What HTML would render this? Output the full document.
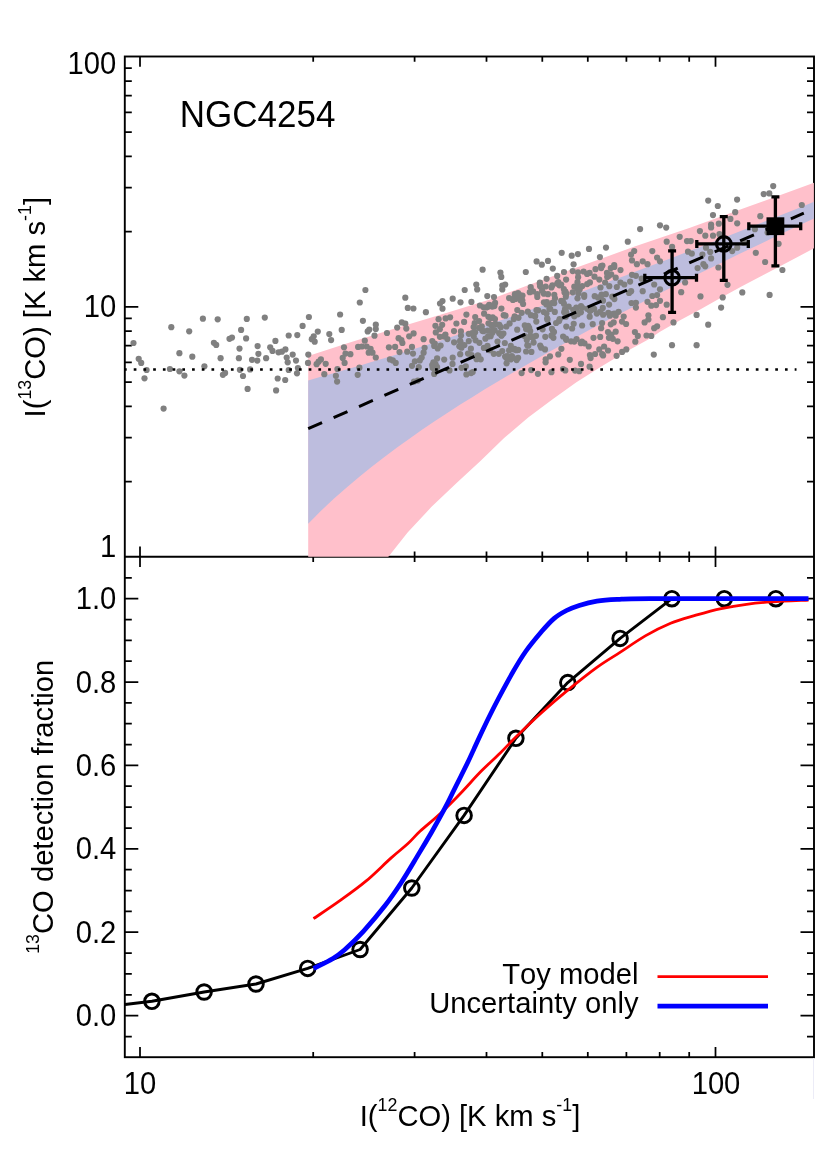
<!DOCTYPE html>
<html><head><meta charset="utf-8"><title>NGC4254</title>
<style>
html,body{margin:0;padding:0;background:#fff}
svg{display:block;will-change:transform}
text{font-family:"Liberation Sans",sans-serif;fill:#000;font-kerning:none}
</style></head>
<body>
<svg width="830" height="1175" viewBox="0 0 830 1175">
<rect width="830" height="1175" fill="#fff"/>
<g stroke="#000" fill="none">
<rect x="124.8" y="56.5" width="689.2" height="1000.7" stroke-width="1.9"/>
<line x1="124.8" y1="556.8" x2="814" y2="556.8" stroke-width="2"/>
<path stroke-width="1.75" d="M140.0 56.5v10.3M140.0 546.5v20.6M140.0 1057.2v-10.3M313.2 56.5v5.2M313.2 551.6v10.4M313.2 1057.2v-5.2M414.6 56.5v5.2M414.6 551.6v10.4M414.6 1057.2v-5.2M486.5 56.5v5.2M486.5 551.6v10.4M486.5 1057.2v-5.2M542.3 56.5v5.2M542.3 551.6v10.4M542.3 1057.2v-5.2M587.8 56.5v5.2M587.8 551.6v10.4M587.8 1057.2v-5.2M626.4 56.5v5.2M626.4 551.6v10.4M626.4 1057.2v-5.2M659.7 56.5v5.2M659.7 551.6v10.4M659.7 1057.2v-5.2M689.2 56.5v5.2M689.2 551.6v10.4M689.2 1057.2v-5.2M715.5 56.5v10.3M715.5 546.5v20.6M715.5 1057.2v-10.3M124.8 481.7h7.0M814.0 481.7h-7.0M124.8 437.7h7.0M814.0 437.7h-7.0M124.8 406.4h7.0M814.0 406.4h-7.0M124.8 382.2h7.0M814.0 382.2h-7.0M124.8 362.4h7.0M814.0 362.4h-7.0M124.8 345.6h7.0M814.0 345.6h-7.0M124.8 331.1h7.0M814.0 331.1h-7.0M124.8 318.3h7.0M814.0 318.3h-7.0M124.8 306.9h13.5M814.0 306.9h-13.5M124.8 231.6h7.0M814.0 231.6h-7.0M124.8 187.6h7.0M814.0 187.6h-7.0M124.8 156.3h7.0M814.0 156.3h-7.0M124.8 132.1h7.0M814.0 132.1h-7.0M124.8 112.3h7.0M814.0 112.3h-7.0M124.8 95.5h7.0M814.0 95.5h-7.0M124.8 81.0h7.0M814.0 81.0h-7.0M124.8 68.2h7.0M814.0 68.2h-7.0M124.8 1036.5h7.0M814.0 1036.5h-7.0M124.8 1015.6h13.5M814.0 1015.6h-13.5M124.8 994.8h7.0M814.0 994.8h-7.0M124.8 973.9h7.0M814.0 973.9h-7.0M124.8 953.0h7.0M814.0 953.0h-7.0M124.8 932.2h13.5M814.0 932.2h-13.5M124.8 911.4h7.0M814.0 911.4h-7.0M124.8 890.5h7.0M814.0 890.5h-7.0M124.8 869.6h7.0M814.0 869.6h-7.0M124.8 848.8h13.5M814.0 848.8h-13.5M124.8 828.0h7.0M814.0 828.0h-7.0M124.8 807.1h7.0M814.0 807.1h-7.0M124.8 786.2h7.0M814.0 786.2h-7.0M124.8 765.4h13.5M814.0 765.4h-13.5M124.8 744.5h7.0M814.0 744.5h-7.0M124.8 723.7h7.0M814.0 723.7h-7.0M124.8 702.9h7.0M814.0 702.9h-7.0M124.8 682.0h13.5M814.0 682.0h-13.5M124.8 661.1h7.0M814.0 661.1h-7.0M124.8 640.3h7.0M814.0 640.3h-7.0M124.8 619.5h7.0M814.0 619.5h-7.0M124.8 598.6h13.5M814.0 598.6h-13.5M124.8 577.8h7.0M814.0 577.8h-7.0"/>
</g>
<defs><clipPath id="ct"><rect x="124.8" y="56.5" width="689.1" height="500.3"/></clipPath></defs>
<g id="bands">
<polygon clip-path="url(#ct)" fill="#ffc0cb" points="308.2,356.0 348.2,342.9 396.4,328.0 444.6,313.5 490.0,299.4 538.2,281.6 586.4,264.0 634.6,246.6 690.0,227.8 750.0,206.0 814.0,182.8 814.0,248.3 782.9,264.8 762.4,275.5 741.9,286.3 721.4,297.6 701.0,308.9 680.5,320.1 660.0,331.8 648.7,339.3 624.6,352.5 600.5,367.0 576.4,382.2 552.3,399.5 528.2,417.6 504.1,438.1 480.7,460.8 456.6,483.0 431.3,507.1 407.6,532.4 389.2,555.8 308.2,654.0"/>
<polygon clip-path="url(#ct)" fill="#bdbdde" points="308.2,380.4 320.8,376.8 333.5,373.3 346.1,369.6 358.8,365.9 371.4,362.1 384.1,358.3 396.7,354.4 409.4,350.4 422.0,346.4 434.6,342.4 447.3,338.3 459.9,334.1 472.6,329.9 485.2,325.6 497.9,321.3 510.5,317.0 523.2,312.5 535.8,308.1 548.5,303.6 561.1,299.1 573.7,294.5 586.4,289.9 599.0,285.3 611.7,280.6 624.3,275.9 637.0,271.1 649.6,266.3 662.3,261.5 674.9,256.7 687.5,251.8 700.2,246.9 712.8,242.0 725.5,237.1 738.1,232.1 750.8,227.1 763.4,222.1 776.1,217.0 788.7,212.0 801.4,206.9 814.0,201.8 814.0,218.4 801.4,224.3 788.7,230.3 776.1,236.3 763.4,242.4 750.8,248.5 738.1,254.6 725.5,260.7 712.8,266.9 700.2,273.1 687.5,279.4 674.9,285.7 662.3,292.1 649.6,298.5 637.0,305.0 624.3,311.5 611.7,318.1 599.0,324.8 586.4,331.6 573.7,338.4 561.1,345.3 548.5,352.3 535.8,359.4 523.2,366.7 510.5,374.0 497.9,381.5 485.2,389.1 472.6,396.9 459.9,404.8 447.3,412.9 434.6,421.3 422.0,429.8 409.4,438.7 396.7,447.8 384.1,457.2 371.4,467.0 358.8,477.2 346.1,487.9 333.5,499.1 320.8,511.0 308.2,523.7"/>
</g>
<line x1="813.5" y1="1058" x2="813.5" y2="1099" stroke="#ececf7" stroke-width="1"/>
<g id="dots" fill="#808080">
<circle cx="133.5" cy="343.0" r="3.1"/><circle cx="138.7" cy="358.8" r="3.1"/><circle cx="141.2" cy="362.9" r="3.1"/><circle cx="146.6" cy="370.0" r="3.1"/><circle cx="144.5" cy="378.3" r="3.1"/><circle cx="163.6" cy="408.6" r="3.1"/><circle cx="171.3" cy="327.2" r="3.1"/><circle cx="169.9" cy="369.0" r="3.1"/><circle cx="179.4" cy="353.2" r="3.1"/><circle cx="179.4" cy="371.3" r="3.1"/><circle cx="184.4" cy="375.6" r="3.1"/><circle cx="189.2" cy="331.3" r="3.1"/><circle cx="192.3" cy="356.7" r="3.1"/><circle cx="202.9" cy="318.7" r="3.1"/><circle cx="204.4" cy="366.3" r="3.1"/><circle cx="213.9" cy="342.8" r="3.1"/><circle cx="216.2" cy="344.9" r="3.1"/><circle cx="217.7" cy="319.3" r="3.1"/><circle cx="220.6" cy="358.2" r="3.1"/><circle cx="222.9" cy="374.8" r="3.1"/><circle cx="225.1" cy="372.9" r="3.1"/><circle cx="229.5" cy="338.8" r="3.1"/><circle cx="232.0" cy="337.6" r="3.1"/><circle cx="238.9" cy="358.2" r="3.1"/><circle cx="239.5" cy="348.6" r="3.1"/><circle cx="239.9" cy="369.8" r="3.1"/><circle cx="241.1" cy="329.9" r="3.1"/><circle cx="243.0" cy="376.0" r="3.1"/><circle cx="246.1" cy="338.4" r="3.1"/><circle cx="246.8" cy="318.9" r="3.1"/><circle cx="247.6" cy="388.9" r="3.1"/><circle cx="250.1" cy="369.4" r="3.1"/><circle cx="252.0" cy="359.8" r="3.1"/><circle cx="257.3" cy="360.6" r="3.1"/><circle cx="257.6" cy="346.1" r="3.1"/><circle cx="258.4" cy="353.8" r="3.1"/><circle cx="264.8" cy="317.6" r="3.1"/><circle cx="266.1" cy="358.2" r="3.1"/><circle cx="270.2" cy="347.3" r="3.1"/><circle cx="272.5" cy="350.9" r="3.1"/><circle cx="275.4" cy="340.9" r="3.1"/><circle cx="276.1" cy="390.4" r="3.1"/><circle cx="277.7" cy="378.5" r="3.1"/><circle cx="278.5" cy="352.3" r="3.1"/><circle cx="285.2" cy="380.0" r="3.1"/><circle cx="288.7" cy="335.5" r="3.1"/><circle cx="297.3" cy="335.1" r="3.1"/><circle cx="302.6" cy="325.9" r="3.1"/><circle cx="308.9" cy="317.0" r="3.1"/><circle cx="285.4" cy="349.4" r="3.1"/><circle cx="281.9" cy="351.7" r="3.1"/><circle cx="286.7" cy="357.5" r="3.1"/><circle cx="287.7" cy="362.3" r="3.1"/><circle cx="292.7" cy="354.6" r="3.1"/><circle cx="296.0" cy="360.6" r="3.1"/><circle cx="297.9" cy="368.1" r="3.1"/><circle cx="297.0" cy="373.3" r="3.1"/><circle cx="288.7" cy="370.0" r="3.1"/><circle cx="308.3" cy="354.6" r="3.1"/><circle cx="308.0" cy="362.9" r="3.1"/><circle cx="311.8" cy="339.2" r="3.1"/><circle cx="313.7" cy="336.3" r="3.1"/><circle cx="314.7" cy="341.7" r="3.1"/><circle cx="317.8" cy="331.6" r="3.1"/><circle cx="329.3" cy="334.1" r="3.1"/><circle cx="331.1" cy="340.1" r="3.1"/><circle cx="340.1" cy="314.5" r="3.1"/><circle cx="341.7" cy="329.9" r="3.1"/><circle cx="316.6" cy="364.2" r="3.1"/><circle cx="318.6" cy="361.7" r="3.1"/><circle cx="320.9" cy="359.4" r="3.1"/><circle cx="325.7" cy="363.8" r="3.1"/><circle cx="324.3" cy="374.2" r="3.1"/><circle cx="335.9" cy="375.8" r="3.1"/><circle cx="337.1" cy="381.6" r="3.1"/><circle cx="337.4" cy="369.0" r="3.1"/><circle cx="344.0" cy="347.3" r="3.1"/><circle cx="345.5" cy="353.6" r="3.1"/><circle cx="342.7" cy="357.9" r="3.1"/><circle cx="344.6" cy="362.9" r="3.1"/><circle cx="350.4" cy="354.2" r="3.1"/><circle cx="357.7" cy="374.8" r="3.1"/><circle cx="359.4" cy="367.7" r="3.1"/><circle cx="359.8" cy="302.5" r="3.1"/><circle cx="365.4" cy="290.0" r="3.1"/><circle cx="362.9" cy="320.8" r="3.1"/><circle cx="358.1" cy="346.9" r="3.1"/><circle cx="361.9" cy="346.5" r="3.1"/><circle cx="364.8" cy="340.7" r="3.1"/><circle cx="367.7" cy="331.4" r="3.1"/><circle cx="369.3" cy="329.5" r="3.1"/><circle cx="375.8" cy="324.7" r="3.1"/><circle cx="375.8" cy="329.1" r="3.1"/><circle cx="374.5" cy="335.7" r="3.1"/><circle cx="366.7" cy="346.5" r="3.1"/><circle cx="370.6" cy="348.8" r="3.1"/><circle cx="368.7" cy="352.7" r="3.1"/><circle cx="372.5" cy="352.7" r="3.1"/><circle cx="375.8" cy="357.5" r="3.1"/><circle cx="387.0" cy="333.0" r="3.1"/><circle cx="388.9" cy="347.3" r="3.1"/><circle cx="389.9" cy="359.4" r="3.1"/><circle cx="392.8" cy="360.4" r="3.1"/><circle cx="395.7" cy="362.9" r="3.1"/><circle cx="395.1" cy="346.9" r="3.1"/><circle cx="397.2" cy="327.6" r="3.1"/><circle cx="398.6" cy="338.2" r="3.1"/><circle cx="401.4" cy="340.1" r="3.1"/><circle cx="402.4" cy="343.0" r="3.1"/><circle cx="399.5" cy="352.1" r="3.1"/><circle cx="401.8" cy="322.4" r="3.1"/><circle cx="405.3" cy="323.7" r="3.1"/><circle cx="406.3" cy="328.6" r="3.1"/><circle cx="405.3" cy="297.7" r="3.1"/><circle cx="407.8" cy="307.9" r="3.1"/><circle cx="413.4" cy="308.5" r="3.1"/><circle cx="409.2" cy="336.3" r="3.1"/><circle cx="413.6" cy="333.4" r="3.1"/><circle cx="407.2" cy="351.7" r="3.1"/><circle cx="412.0" cy="346.9" r="3.1"/><circle cx="413.0" cy="353.6" r="3.1"/><circle cx="412.0" cy="365.8" r="3.1"/><circle cx="414.9" cy="361.3" r="3.1"/><circle cx="423.6" cy="339.2" r="3.1"/><circle cx="425.9" cy="312.2" r="3.1"/><circle cx="424.6" cy="347.8" r="3.1"/><circle cx="423.6" cy="352.7" r="3.1"/><circle cx="421.7" cy="357.5" r="3.1"/><circle cx="419.8" cy="360.4" r="3.1"/><circle cx="418.8" cy="367.1" r="3.1"/><circle cx="414.0" cy="381.6" r="3.1"/><circle cx="417.8" cy="380.6" r="3.1"/><circle cx="432.3" cy="341.1" r="3.1"/><circle cx="434.2" cy="345.9" r="3.1"/><circle cx="435.8" cy="332.4" r="3.1"/><circle cx="437.1" cy="358.4" r="3.1"/><circle cx="434.2" cy="373.9" r="3.1"/><circle cx="437.1" cy="367.1" r="3.1"/><circle cx="440.0" cy="303.5" r="3.1"/><circle cx="442.5" cy="301.0" r="3.1"/><circle cx="442.5" cy="308.7" r="3.1"/><circle cx="452.7" cy="298.7" r="3.1"/><circle cx="460.5" cy="302.3" r="3.1"/><circle cx="464.7" cy="290.0" r="3.1"/><circle cx="476.3" cy="284.6" r="3.1"/><circle cx="477.2" cy="289.4" r="3.1"/><circle cx="482.6" cy="269.7" r="3.1"/><circle cx="471.4" cy="301.9" r="3.1"/><circle cx="487.3" cy="296.1" r="3.1"/><circle cx="494.0" cy="297.1" r="3.1"/><circle cx="489.2" cy="304.8" r="3.1"/><circle cx="500.4" cy="272.6" r="3.1"/><circle cx="501.3" cy="276.9" r="3.1"/><circle cx="502.3" cy="285.5" r="3.1"/><circle cx="505.2" cy="284.6" r="3.1"/><circle cx="502.3" cy="289.4" r="3.1"/><circle cx="525.8" cy="272.0" r="3.1"/><circle cx="522.5" cy="295.6" r="3.1"/><circle cx="516.7" cy="296.1" r="3.1"/><circle cx="512.9" cy="300.0" r="3.1"/><circle cx="533.1" cy="291.3" r="3.1"/><circle cx="536.6" cy="261.4" r="3.1"/><circle cx="541.8" cy="264.7" r="3.1"/><circle cx="548.0" cy="260.9" r="3.1"/><circle cx="552.8" cy="268.6" r="3.1"/><circle cx="546.6" cy="278.8" r="3.1"/><circle cx="539.9" cy="282.7" r="3.1"/><circle cx="561.7" cy="252.8" r="3.1"/><circle cx="571.7" cy="255.7" r="3.1"/><circle cx="577.9" cy="254.1" r="3.1"/><circle cx="573.6" cy="264.3" r="3.1"/><circle cx="589.0" cy="248.9" r="3.1"/><circle cx="557.2" cy="275.9" r="3.1"/><circle cx="564.0" cy="272.0" r="3.1"/><circle cx="572.7" cy="271.1" r="3.1"/><circle cx="578.0" cy="272.4" r="3.1"/><circle cx="583.6" cy="271.5" r="3.1"/><circle cx="545.7" cy="286.5" r="3.1"/><circle cx="551.4" cy="287.5" r="3.1"/><circle cx="557.2" cy="283.6" r="3.1"/><circle cx="548.0" cy="294.2" r="3.1"/><circle cx="554.3" cy="294.8" r="3.1"/><circle cx="566.5" cy="293.8" r="3.1"/><circle cx="572.7" cy="292.3" r="3.1"/><circle cx="578.4" cy="286.5" r="3.1"/><circle cx="606.0" cy="247.6" r="3.1"/><circle cx="599.9" cy="257.1" r="3.1"/><circle cx="627.8" cy="241.7" r="3.1"/><circle cx="640.1" cy="229.1" r="3.1"/><circle cx="660.0" cy="225.3" r="3.1"/><circle cx="666.2" cy="227.6" r="3.1"/><circle cx="708.2" cy="200.6" r="3.1"/><circle cx="717.8" cy="206.0" r="3.1"/><circle cx="713.0" cy="215.1" r="3.1"/><circle cx="737.1" cy="199.6" r="3.1"/><circle cx="735.2" cy="212.2" r="3.1"/><circle cx="679.7" cy="236.8" r="3.1"/><circle cx="666.7" cy="241.7" r="3.1"/><circle cx="687.0" cy="241.1" r="3.1"/><circle cx="690.8" cy="241.1" r="3.1"/><circle cx="652.3" cy="251.1" r="3.1"/><circle cx="631.1" cy="254.6" r="3.1"/><circle cx="632.0" cy="260.4" r="3.1"/><circle cx="636.9" cy="264.2" r="3.1"/><circle cx="642.7" cy="261.3" r="3.1"/><circle cx="647.5" cy="264.2" r="3.1"/><circle cx="657.1" cy="257.5" r="3.1"/><circle cx="660.0" cy="261.3" r="3.1"/><circle cx="699.9" cy="231.1" r="3.1"/><circle cx="705.3" cy="235.7" r="3.1"/><circle cx="713.0" cy="235.7" r="3.1"/><circle cx="711.1" cy="224.7" r="3.1"/><circle cx="718.8" cy="223.7" r="3.1"/><circle cx="730.4" cy="218.9" r="3.1"/><circle cx="672.1" cy="246.9" r="3.1"/><circle cx="688.0" cy="251.7" r="3.1"/><circle cx="691.8" cy="253.6" r="3.1"/><circle cx="702.4" cy="254.6" r="3.1"/><circle cx="711.1" cy="258.4" r="3.1"/><circle cx="703.4" cy="264.2" r="3.1"/><circle cx="697.6" cy="268.1" r="3.1"/><circle cx="718.4" cy="267.5" r="3.1"/><circle cx="727.5" cy="284.8" r="3.1"/><circle cx="722.7" cy="297.4" r="3.1"/><circle cx="721.1" cy="307.6" r="3.1"/><circle cx="700.5" cy="296.4" r="3.1"/><circle cx="696.6" cy="314.9" r="3.1"/><circle cx="681.2" cy="292.2" r="3.1"/><circle cx="685.1" cy="282.5" r="3.1"/><circle cx="660.0" cy="289.3" r="3.1"/><circle cx="654.2" cy="284.5" r="3.1"/><circle cx="657.1" cy="295.1" r="3.1"/><circle cx="660.0" cy="300.8" r="3.1"/><circle cx="666.7" cy="304.7" r="3.1"/><circle cx="652.3" cy="296.0" r="3.1"/><circle cx="647.5" cy="301.8" r="3.1"/><circle cx="651.3" cy="305.7" r="3.1"/><circle cx="635.9" cy="302.8" r="3.1"/><circle cx="635.9" cy="307.6" r="3.1"/><circle cx="648.4" cy="315.3" r="3.1"/><circle cx="662.9" cy="317.2" r="3.1"/><circle cx="631.1" cy="291.2" r="3.1"/><circle cx="642.7" cy="291.2" r="3.1"/><circle cx="601.2" cy="268.1" r="3.1"/><circle cx="610.8" cy="268.1" r="3.1"/><circle cx="607.0" cy="272.9" r="3.1"/><circle cx="608.9" cy="275.8" r="3.1"/><circle cx="589.6" cy="272.9" r="3.1"/><circle cx="594.5" cy="276.7" r="3.1"/><circle cx="599.3" cy="279.6" r="3.1"/><circle cx="605.1" cy="282.5" r="3.1"/><circle cx="615.7" cy="277.7" r="3.1"/><circle cx="620.5" cy="282.5" r="3.1"/><circle cx="624.3" cy="284.5" r="3.1"/><circle cx="630.1" cy="281.6" r="3.1"/><circle cx="632.0" cy="274.8" r="3.1"/><circle cx="635.9" cy="275.8" r="3.1"/><circle cx="641.7" cy="278.7" r="3.1"/><circle cx="653.8" cy="354.6" r="3.1"/><circle cx="672.0" cy="345.2" r="3.1"/><circle cx="696.6" cy="345.2" r="3.1"/><circle cx="708.2" cy="324.7" r="3.1"/><circle cx="673.5" cy="322.4" r="3.1"/><circle cx="657.1" cy="326.3" r="3.1"/><circle cx="654.2" cy="328.2" r="3.1"/><circle cx="651.3" cy="335.9" r="3.1"/><circle cx="646.5" cy="335.5" r="3.1"/><circle cx="634.9" cy="332.0" r="3.1"/><circle cx="637.8" cy="335.9" r="3.1"/><circle cx="635.3" cy="341.7" r="3.1"/><circle cx="626.3" cy="349.4" r="3.1"/><circle cx="616.6" cy="355.8" r="3.1"/><circle cx="590.6" cy="358.1" r="3.1"/><circle cx="589.6" cy="366.7" r="3.1"/><circle cx="581.0" cy="363.9" r="3.1"/><circle cx="602.2" cy="354.2" r="3.1"/><circle cx="599.3" cy="349.4" r="3.1"/><circle cx="604.1" cy="346.5" r="3.1"/><circle cx="588.7" cy="346.5" r="3.1"/><circle cx="593.5" cy="337.8" r="3.1"/><circle cx="600.2" cy="336.9" r="3.1"/><circle cx="581.9" cy="341.7" r="3.1"/><circle cx="608.0" cy="332.0" r="3.1"/><circle cx="615.7" cy="331.7" r="3.1"/><circle cx="608.9" cy="337.8" r="3.1"/><circle cx="612.8" cy="338.8" r="3.1"/><circle cx="617.6" cy="341.3" r="3.1"/><circle cx="610.8" cy="324.3" r="3.1"/><circle cx="613.7" cy="322.4" r="3.1"/><circle cx="644.6" cy="322.4" r="3.1"/><circle cx="648.4" cy="319.5" r="3.1"/><circle cx="656.1" cy="305.1" r="3.1"/><circle cx="618.6" cy="311.8" r="3.1"/><circle cx="615.7" cy="315.7" r="3.1"/><circle cx="609.9" cy="315.7" r="3.1"/><circle cx="603.1" cy="314.7" r="3.1"/><circle cx="600.2" cy="311.8" r="3.1"/><circle cx="737.2" cy="223.3" r="3.1"/><circle cx="711.1" cy="227.5" r="3.1"/><circle cx="719.5" cy="234.2" r="3.1"/><circle cx="710.2" cy="251.9" r="3.1"/><circle cx="706.0" cy="247.7" r="3.1"/><circle cx="705.2" cy="266.3" r="3.1"/><circle cx="742.3" cy="292.4" r="3.1"/><circle cx="769.6" cy="294.9" r="3.1"/><circle cx="782.4" cy="270.0" r="3.1"/><circle cx="765.1" cy="262.0" r="3.1"/><circle cx="755.8" cy="252.8" r="3.1"/><circle cx="778.6" cy="243.8" r="3.1"/><circle cx="754.9" cy="229.2" r="3.1"/><circle cx="760.3" cy="216.2" r="3.1"/><circle cx="763.7" cy="194.1" r="3.1"/><circle cx="769.3" cy="193.4" r="3.1"/><circle cx="773.2" cy="186.1" r="3.1"/><circle cx="801.8" cy="205.0" r="3.1"/><circle cx="767.6" cy="232.5" r="3.1"/><circle cx="732.2" cy="251.1" r="3.1"/><circle cx="737.2" cy="247.7" r="3.1"/><circle cx="744.0" cy="242.7" r="3.1"/><circle cx="466.4" cy="374.4" r="3.1"/><circle cx="515.4" cy="299.0" r="3.1"/><circle cx="530.9" cy="315.2" r="3.1"/><circle cx="620.5" cy="270.1" r="3.1"/><circle cx="461.5" cy="347.7" r="3.1"/><circle cx="488.5" cy="323.3" r="3.1"/><circle cx="502.3" cy="351.0" r="3.1"/><circle cx="577.7" cy="311.9" r="3.1"/><circle cx="445.6" cy="318.4" r="3.1"/><circle cx="613.1" cy="313.8" r="3.1"/><circle cx="631.5" cy="303.0" r="3.1"/><circle cx="527.3" cy="345.3" r="3.1"/><circle cx="536.0" cy="335.8" r="3.1"/><circle cx="614.4" cy="299.1" r="3.1"/><circle cx="537.3" cy="296.9" r="3.1"/><circle cx="607.2" cy="277.0" r="3.1"/><circle cx="513.8" cy="319.1" r="3.1"/><circle cx="472.2" cy="333.1" r="3.1"/><circle cx="566.3" cy="312.4" r="3.1"/><circle cx="510.8" cy="345.8" r="3.1"/><circle cx="529.8" cy="292.2" r="3.1"/><circle cx="447.4" cy="339.1" r="3.1"/><circle cx="444.0" cy="336.4" r="3.1"/><circle cx="514.9" cy="294.2" r="3.1"/><circle cx="565.4" cy="291.6" r="3.1"/><circle cx="454.0" cy="331.1" r="3.1"/><circle cx="492.4" cy="332.7" r="3.1"/><circle cx="552.4" cy="285.3" r="3.1"/><circle cx="546.4" cy="304.5" r="3.1"/><circle cx="608.0" cy="350.5" r="3.1"/><circle cx="511.9" cy="356.2" r="3.1"/><circle cx="438.6" cy="319.2" r="3.1"/><circle cx="589.9" cy="282.4" r="3.1"/><circle cx="482.3" cy="330.8" r="3.1"/><circle cx="574.3" cy="286.7" r="3.1"/><circle cx="580.9" cy="312.3" r="3.1"/><circle cx="602.1" cy="323.1" r="3.1"/><circle cx="518.5" cy="317.8" r="3.1"/><circle cx="461.0" cy="335.6" r="3.1"/><circle cx="461.9" cy="345.4" r="3.1"/><circle cx="565.0" cy="309.1" r="3.1"/><circle cx="471.1" cy="373.1" r="3.1"/><circle cx="614.2" cy="265.1" r="3.1"/><circle cx="587.2" cy="284.1" r="3.1"/><circle cx="580.8" cy="343.2" r="3.1"/><circle cx="584.5" cy="343.3" r="3.1"/><circle cx="589.9" cy="355.1" r="3.1"/><circle cx="559.6" cy="319.2" r="3.1"/><circle cx="485.4" cy="338.7" r="3.1"/><circle cx="476.6" cy="359.2" r="3.1"/><circle cx="558.3" cy="282.1" r="3.1"/><circle cx="574.3" cy="316.3" r="3.1"/><circle cx="461.5" cy="367.8" r="3.1"/><circle cx="534.8" cy="316.2" r="3.1"/><circle cx="543.9" cy="293.7" r="3.1"/><circle cx="488.1" cy="336.4" r="3.1"/><circle cx="468.8" cy="341.1" r="3.1"/><circle cx="501.5" cy="335.5" r="3.1"/><circle cx="435.5" cy="371.5" r="3.1"/><circle cx="540.2" cy="345.6" r="3.1"/><circle cx="483.9" cy="347.9" r="3.1"/><circle cx="460.2" cy="354.2" r="3.1"/><circle cx="563.9" cy="303.7" r="3.1"/><circle cx="498.8" cy="353.8" r="3.1"/><circle cx="487.7" cy="330.6" r="3.1"/><circle cx="432.2" cy="365.0" r="3.1"/><circle cx="477.8" cy="355.3" r="3.1"/><circle cx="452.5" cy="363.9" r="3.1"/><circle cx="501.4" cy="308.6" r="3.1"/><circle cx="603.1" cy="355.4" r="3.1"/><circle cx="506.4" cy="326.5" r="3.1"/><circle cx="549.0" cy="304.8" r="3.1"/><circle cx="551.4" cy="372.2" r="3.1"/><circle cx="509.6" cy="323.4" r="3.1"/><circle cx="524.8" cy="325.4" r="3.1"/><circle cx="575.1" cy="370.6" r="3.1"/><circle cx="554.0" cy="332.1" r="3.1"/><circle cx="554.8" cy="311.9" r="3.1"/><circle cx="541.2" cy="347.7" r="3.1"/><circle cx="505.1" cy="356.6" r="3.1"/><circle cx="434.8" cy="343.6" r="3.1"/><circle cx="537.9" cy="373.8" r="3.1"/><circle cx="634.2" cy="251.0" r="3.1"/><circle cx="437.7" cy="348.4" r="3.1"/><circle cx="500.8" cy="327.2" r="3.1"/><circle cx="576.6" cy="339.1" r="3.1"/><circle cx="513.0" cy="357.8" r="3.1"/><circle cx="494.7" cy="330.2" r="3.1"/><circle cx="547.2" cy="318.4" r="3.1"/><circle cx="527.6" cy="329.2" r="3.1"/><circle cx="545.0" cy="349.4" r="3.1"/><circle cx="552.7" cy="302.7" r="3.1"/><circle cx="510.4" cy="358.8" r="3.1"/><circle cx="540.1" cy="286.2" r="3.1"/><circle cx="559.1" cy="321.1" r="3.1"/><circle cx="479.4" cy="342.8" r="3.1"/><circle cx="452.7" cy="357.7" r="3.1"/><circle cx="526.8" cy="340.1" r="3.1"/><circle cx="565.9" cy="338.5" r="3.1"/><circle cx="490.0" cy="350.2" r="3.1"/><circle cx="490.1" cy="305.3" r="3.1"/><circle cx="587.1" cy="273.9" r="3.1"/><circle cx="558.3" cy="354.4" r="3.1"/><circle cx="549.4" cy="308.8" r="3.1"/><circle cx="600.5" cy="287.5" r="3.1"/><circle cx="520.5" cy="300.3" r="3.1"/><circle cx="582.1" cy="325.5" r="3.1"/><circle cx="514.0" cy="349.5" r="3.1"/><circle cx="545.6" cy="362.3" r="3.1"/><circle cx="584.2" cy="295.1" r="3.1"/><circle cx="509.1" cy="350.4" r="3.1"/><circle cx="577.5" cy="282.2" r="3.1"/><circle cx="474.7" cy="323.2" r="3.1"/><circle cx="572.1" cy="328.5" r="3.1"/><circle cx="503.7" cy="315.2" r="3.1"/><circle cx="521.7" cy="312.8" r="3.1"/><circle cx="629.1" cy="292.9" r="3.1"/><circle cx="517.2" cy="329.7" r="3.1"/><circle cx="495.8" cy="324.1" r="3.1"/><circle cx="480.7" cy="359.3" r="3.1"/><circle cx="495.1" cy="302.9" r="3.1"/><circle cx="522.3" cy="300.3" r="3.1"/><circle cx="439.9" cy="336.8" r="3.1"/><circle cx="602.4" cy="265.6" r="3.1"/><circle cx="472.7" cy="372.0" r="3.1"/><circle cx="471.6" cy="355.2" r="3.1"/><circle cx="579.3" cy="371.2" r="3.1"/><circle cx="514.5" cy="348.8" r="3.1"/><circle cx="481.8" cy="326.4" r="3.1"/><circle cx="545.7" cy="359.3" r="3.1"/><circle cx="582.1" cy="307.6" r="3.1"/><circle cx="561.2" cy="300.9" r="3.1"/><circle cx="488.4" cy="316.8" r="3.1"/><circle cx="508.5" cy="356.9" r="3.1"/><circle cx="569.8" cy="359.8" r="3.1"/><circle cx="499.3" cy="324.9" r="3.1"/><circle cx="609.3" cy="286.2" r="3.1"/><circle cx="561.2" cy="284.6" r="3.1"/><circle cx="568.7" cy="306.7" r="3.1"/><circle cx="506.6" cy="363.3" r="3.1"/><circle cx="478.4" cy="356.0" r="3.1"/><circle cx="579.7" cy="289.5" r="3.1"/><circle cx="533.0" cy="337.7" r="3.1"/><circle cx="516.0" cy="296.2" r="3.1"/><circle cx="598.0" cy="297.6" r="3.1"/><circle cx="527.8" cy="311.7" r="3.1"/><circle cx="543.8" cy="312.0" r="3.1"/><circle cx="460.9" cy="331.4" r="3.1"/><circle cx="444.2" cy="359.6" r="3.1"/><circle cx="611.2" cy="274.3" r="3.1"/><circle cx="499.2" cy="333.2" r="3.1"/><circle cx="460.1" cy="340.8" r="3.1"/><circle cx="614.3" cy="266.9" r="3.1"/><circle cx="584.2" cy="296.8" r="3.1"/><circle cx="456.4" cy="323.5" r="3.1"/><circle cx="532.8" cy="336.7" r="3.1"/><circle cx="518.2" cy="349.9" r="3.1"/><circle cx="517.3" cy="310.0" r="3.1"/><circle cx="546.5" cy="313.6" r="3.1"/><circle cx="547.4" cy="319.7" r="3.1"/><circle cx="468.8" cy="333.8" r="3.1"/><circle cx="581.0" cy="306.0" r="3.1"/><circle cx="564.2" cy="312.2" r="3.1"/><circle cx="468.0" cy="353.6" r="3.1"/><circle cx="536.3" cy="321.6" r="3.1"/><circle cx="479.9" cy="305.5" r="3.1"/><circle cx="449.5" cy="370.4" r="3.1"/><circle cx="432.6" cy="367.8" r="3.1"/><circle cx="574.3" cy="341.6" r="3.1"/><circle cx="492.7" cy="317.3" r="3.1"/><circle cx="577.5" cy="298.3" r="3.1"/><circle cx="492.2" cy="306.6" r="3.1"/><circle cx="487.5" cy="345.8" r="3.1"/><circle cx="524.6" cy="336.0" r="3.1"/><circle cx="566.1" cy="279.6" r="3.1"/><circle cx="503.4" cy="333.6" r="3.1"/><circle cx="531.1" cy="336.9" r="3.1"/><circle cx="554.2" cy="303.2" r="3.1"/><circle cx="600.8" cy="296.8" r="3.1"/><circle cx="531.4" cy="351.9" r="3.1"/><circle cx="578.4" cy="293.5" r="3.1"/><circle cx="514.7" cy="316.3" r="3.1"/><circle cx="542.6" cy="329.3" r="3.1"/><circle cx="530.2" cy="331.0" r="3.1"/><circle cx="589.9" cy="310.9" r="3.1"/><circle cx="518.1" cy="293.2" r="3.1"/><circle cx="556.1" cy="323.0" r="3.1"/><circle cx="439.8" cy="329.2" r="3.1"/><circle cx="507.2" cy="356.0" r="3.1"/><circle cx="504.8" cy="343.0" r="3.1"/><circle cx="526.1" cy="351.5" r="3.1"/><circle cx="592.7" cy="324.2" r="3.1"/><circle cx="539.8" cy="283.8" r="3.1"/><circle cx="605.8" cy="294.2" r="3.1"/><circle cx="565.3" cy="370.4" r="3.1"/><circle cx="479.0" cy="327.8" r="3.1"/><circle cx="553.2" cy="331.4" r="3.1"/><circle cx="501.5" cy="335.6" r="3.1"/><circle cx="608.3" cy="312.8" r="3.1"/><circle cx="491.6" cy="325.2" r="3.1"/><circle cx="537.3" cy="294.2" r="3.1"/><circle cx="506.5" cy="358.1" r="3.1"/><circle cx="475.2" cy="317.1" r="3.1"/><circle cx="551.4" cy="335.7" r="3.1"/><circle cx="479.1" cy="321.1" r="3.1"/><circle cx="612.3" cy="296.7" r="3.1"/><circle cx="535.2" cy="315.9" r="3.1"/><circle cx="602.8" cy="307.9" r="3.1"/><circle cx="497.5" cy="341.5" r="3.1"/><circle cx="516.4" cy="350.2" r="3.1"/><circle cx="582.3" cy="286.1" r="3.1"/><circle cx="505.5" cy="315.7" r="3.1"/><circle cx="573.7" cy="323.8" r="3.1"/><circle cx="564.5" cy="292.6" r="3.1"/><circle cx="563.0" cy="369.1" r="3.1"/><circle cx="577.8" cy="314.3" r="3.1"/><circle cx="523.1" cy="304.0" r="3.1"/><circle cx="591.2" cy="310.1" r="3.1"/><circle cx="601.1" cy="266.0" r="3.1"/><circle cx="475.6" cy="340.3" r="3.1"/><circle cx="609.1" cy="304.6" r="3.1"/><circle cx="483.5" cy="331.2" r="3.1"/><circle cx="460.5" cy="342.2" r="3.1"/><circle cx="464.1" cy="321.9" r="3.1"/><circle cx="529.2" cy="327.9" r="3.1"/><circle cx="550.3" cy="308.8" r="3.1"/><circle cx="577.3" cy="289.1" r="3.1"/><circle cx="464.4" cy="345.0" r="3.1"/><circle cx="536.5" cy="310.2" r="3.1"/><circle cx="601.6" cy="294.5" r="3.1"/><circle cx="555.0" cy="298.3" r="3.1"/><circle cx="573.2" cy="309.8" r="3.1"/><circle cx="495.0" cy="319.1" r="3.1"/><circle cx="566.2" cy="339.8" r="3.1"/><circle cx="518.1" cy="357.8" r="3.1"/><circle cx="492.3" cy="330.7" r="3.1"/><circle cx="623.7" cy="316.6" r="3.1"/><circle cx="466.4" cy="314.6" r="3.1"/><circle cx="551.9" cy="328.8" r="3.1"/><circle cx="550.0" cy="356.3" r="3.1"/><circle cx="465.8" cy="366.4" r="3.1"/><circle cx="531.2" cy="370.1" r="3.1"/><circle cx="509.1" cy="298.1" r="3.1"/><circle cx="546.9" cy="302.2" r="3.1"/><circle cx="565.7" cy="316.7" r="3.1"/><circle cx="596.8" cy="313.6" r="3.1"/><circle cx="433.4" cy="362.4" r="3.1"/><circle cx="622.1" cy="351.9" r="3.1"/><circle cx="521.6" cy="373.1" r="3.1"/><circle cx="514.3" cy="297.9" r="3.1"/><circle cx="595.1" cy="354.0" r="3.1"/><circle cx="490.8" cy="318.1" r="3.1"/><circle cx="530.2" cy="335.9" r="3.1"/><circle cx="561.4" cy="348.8" r="3.1"/><circle cx="435.2" cy="364.2" r="3.1"/><circle cx="526.1" cy="329.1" r="3.1"/><circle cx="562.8" cy="301.2" r="3.1"/><circle cx="559.4" cy="285.3" r="3.1"/><circle cx="435.4" cy="325.8" r="3.1"/><circle cx="470.9" cy="348.7" r="3.1"/><circle cx="563.1" cy="336.5" r="3.1"/><circle cx="613.8" cy="296.8" r="3.1"/><circle cx="530.7" cy="287.2" r="3.1"/><circle cx="587.1" cy="308.8" r="3.1"/><circle cx="614.8" cy="313.5" r="3.1"/><circle cx="473.7" cy="336.3" r="3.1"/><circle cx="601.1" cy="328.2" r="3.1"/><circle cx="565.8" cy="296.7" r="3.1"/><circle cx="622.0" cy="321.6" r="3.1"/><circle cx="626.1" cy="324.0" r="3.1"/><circle cx="603.0" cy="300.7" r="3.1"/><circle cx="545.3" cy="336.8" r="3.1"/><circle cx="475.1" cy="332.2" r="3.1"/><circle cx="528.1" cy="325.8" r="3.1"/><circle cx="442.2" cy="324.8" r="3.1"/><circle cx="576.3" cy="307.5" r="3.1"/><circle cx="510.6" cy="359.4" r="3.1"/><circle cx="589.7" cy="316.7" r="3.1"/><circle cx="440.6" cy="345.5" r="3.1"/><circle cx="459.3" cy="346.3" r="3.1"/><circle cx="578.1" cy="277.2" r="3.1"/><circle cx="491.6" cy="324.9" r="3.1"/><circle cx="519.8" cy="295.2" r="3.1"/><circle cx="611.3" cy="334.6" r="3.1"/><circle cx="542.1" cy="290.7" r="3.1"/><circle cx="490.6" cy="336.2" r="3.1"/><circle cx="486.4" cy="307.5" r="3.1"/><circle cx="595.5" cy="269.2" r="3.1"/><circle cx="454.1" cy="342.3" r="3.1"/><circle cx="528.4" cy="345.7" r="3.1"/><circle cx="445.4" cy="334.5" r="3.1"/><circle cx="594.7" cy="296.2" r="3.1"/><circle cx="484.1" cy="313.7" r="3.1"/><circle cx="493.8" cy="353.8" r="3.1"/><circle cx="543.9" cy="302.3" r="3.1"/><circle cx="563.8" cy="289.0" r="3.1"/><circle cx="483.6" cy="307.3" r="3.1"/><circle cx="538.2" cy="310.3" r="3.1"/><circle cx="450.1" cy="317.3" r="3.1"/><circle cx="494.4" cy="306.1" r="3.1"/><circle cx="571.0" cy="341.3" r="3.1"/><circle cx="566.3" cy="326.6" r="3.1"/><circle cx="616.8" cy="287.0" r="3.1"/><circle cx="435.5" cy="364.2" r="3.1"/><circle cx="487.9" cy="306.7" r="3.1"/><circle cx="516.6" cy="360.1" r="3.1"/><circle cx="533.6" cy="342.6" r="3.1"/><circle cx="553.4" cy="337.8" r="3.1"/><circle cx="594.2" cy="308.9" r="3.1"/><circle cx="473.6" cy="327.1" r="3.1"/>
</g>
<line x1="124" y1="369.5" x2="796.5" y2="369.5" stroke="#000" stroke-width="2.7" stroke-dasharray="2.7 7.02"/>
<line x1="308.2" y1="428.6" x2="803.8" y2="213.2" stroke="#000" stroke-width="3.0" stroke-dasharray="15.1 12.6"/>
<g stroke="#000" stroke-width="3.3" fill="none"><path d="M644.8 277.7H696.5M672.1 250.9V312.4M644.8 273.7v8M696.5 273.7v8M668.1 250.9h8M668.1 312.4h8"/><circle cx="672.1" cy="277.7" r="7.3" stroke-width="3.1"/></g>
<g stroke="#000" stroke-width="3.3" fill="none"><path d="M696.8 243.9H748.3M723.8 216.7V280.4M696.8 239.9v8M748.3 239.9v8M719.8 216.7h8M719.8 280.4h8"/><circle cx="723.8" cy="243.9" r="7.3" stroke-width="3.1"/></g>
<g stroke="#000" stroke-width="3.3" fill="none"><path d="M748.8 226.2H800.7M775.4 196.8V265.8M748.8 222.2v8M800.7 222.2v8M771.4 196.8h8M771.4 265.8h8"/><rect x="766.5" y="217.3" width="17.8" height="17.8" fill="#000" stroke="none"/></g>
<polyline fill="none" stroke="#000" stroke-width="2.9" stroke-linejoin="round" points="125.0,1004.5 151.9,1001.3 204.1,992.0 256.0,984.0 307.7,968.4 360.1,949.5 411.8,888.0 464.1,815.4 515.9,738.3 567.8,682.6 620.1,638.4 671.9,598.7 724.3,598.7 775.9,598.7"/>
<g fill="none" stroke="#000" stroke-width="2.9"><circle cx="151.9" cy="1001.3" r="7.3"/><circle cx="204.1" cy="992.0" r="7.3"/><circle cx="256.0" cy="984.0" r="7.3"/><circle cx="307.7" cy="968.4" r="7.3"/><circle cx="360.1" cy="949.5" r="7.3"/><circle cx="411.8" cy="888.0" r="7.3"/><circle cx="464.1" cy="815.4" r="7.3"/><circle cx="515.9" cy="738.3" r="7.3"/><circle cx="567.8" cy="682.6" r="7.3"/><circle cx="620.1" cy="638.4" r="7.3"/><circle cx="671.9" cy="598.7" r="7.3"/><circle cx="724.3" cy="598.7" r="7.3"/><circle cx="775.9" cy="598.7" r="7.3"/></g>
<path fill="none" stroke="#ff0000" stroke-width="2.8" d="M313.5 918.7C318.0 915.6 331.9 906.5 340.6 900.2C349.3 894.0 357.5 888.2 365.9 881.2C374.3 874.2 384.2 864.1 391.2 857.9C398.2 851.7 402.9 848.2 407.7 843.8C412.5 839.4 414.6 836.3 420.0 831.3C425.4 826.2 433.6 819.9 440.4 813.5C447.2 807.1 454.1 800.1 460.9 793.0C467.7 785.9 474.8 777.7 481.3 771.1C487.8 764.5 494.2 758.9 500.0 753.2C505.8 747.5 509.0 743.7 515.9 737.0C522.8 730.3 532.6 720.8 541.2 713.0C549.9 705.2 558.5 697.8 567.8 690.2C577.1 682.6 588.2 673.7 596.9 667.4C605.6 661.1 611.9 657.6 620.0 652.4C628.1 647.1 636.9 640.8 645.3 635.9C653.7 631.0 662.2 626.8 670.6 623.3C679.0 619.8 687.5 617.7 695.9 615.2C704.3 612.8 712.8 610.4 721.2 608.6C729.6 606.8 738.1 605.4 746.5 604.3C754.9 603.2 761.5 602.5 771.8 601.8C782.1 601.1 802.4 600.3 808.5 600.0"/>
<path fill="none" stroke="#0000ff" stroke-width="4.7" d="M313.5 968.5C316.8 966.8 327.9 961.5 333.0 958.4C338.1 955.3 339.3 954.5 344.4 950.0C349.5 945.5 356.6 938.7 363.4 931.3C370.1 923.9 378.6 913.9 384.9 905.8C391.2 897.7 395.6 891.2 401.3 882.5C407.0 873.8 413.9 861.8 419.0 853.4C424.1 845.0 427.4 839.4 431.7 832.0C435.9 824.6 441.0 815.4 444.5 808.9C448.0 802.4 449.8 798.5 452.5 793.0C455.2 787.5 458.3 781.3 460.9 776.2C463.4 771.1 465.6 766.9 467.8 762.3C470.0 757.7 471.6 754.1 474.1 748.6C476.6 743.1 479.0 737.7 483.0 729.4C487.0 721.1 493.1 708.7 498.2 699.0C503.3 689.3 508.8 679.2 513.4 671.2C518.0 663.2 521.4 657.5 526.0 651.0C530.6 644.5 536.6 637.4 541.2 632.0C545.9 626.6 549.7 622.2 553.9 618.6C558.1 615.0 562.3 612.7 566.5 610.5C570.7 608.3 574.1 607.0 579.2 605.4C584.3 603.8 590.6 602.1 596.9 601.1C603.2 600.1 608.2 599.8 617.1 599.4C626.0 599.0 618.1 598.7 650.0 598.6C681.9 598.5 782.1 598.6 808.5 598.6"/>
<line x1="657.5" y1="976.6" x2="768" y2="976.6" stroke="#ff0000" stroke-width="2.8"/>
<line x1="657.5" y1="1006.2" x2="768" y2="1006.2" stroke="#0000ff" stroke-width="4.7"/>
<text x="638.5" y="983.8" font-size="29.2" text-anchor="end">Toy model</text>
<text x="638.5" y="1012.6" font-size="29.2" text-anchor="end">Uncertainty only</text>
<g font-size="29.2">
<text transform="translate(116.3 73.7) scale(1 1.08)" text-anchor="end">100</text>
<text transform="translate(116.3 317.0) scale(1 1.08)" text-anchor="end">10</text>
<text transform="translate(116.3 556.7) scale(1 1.08)" text-anchor="end">1</text>
<text transform="translate(116.3 1026.2) scale(1 1.08)" text-anchor="end">0.0</text>
<text transform="translate(116.3 942.8) scale(1 1.08)" text-anchor="end">0.2</text>
<text transform="translate(116.3 859.4) scale(1 1.08)" text-anchor="end">0.4</text>
<text transform="translate(116.3 776.0) scale(1 1.08)" text-anchor="end">0.6</text>
<text transform="translate(116.3 692.6) scale(1 1.08)" text-anchor="end">0.8</text>
<text transform="translate(116.3 609.2) scale(1 1.08)" text-anchor="end">1.0</text>
<text transform="translate(140.0 1093.8) scale(1 1.08)" text-anchor="middle">10</text>
<text transform="translate(716.0 1093.8) scale(1 1.08)" text-anchor="middle">100</text>
</g>
<text transform="translate(179.8 127.1) scale(1 1.045)" font-size="35" text-anchor="start">NGC4254</text>
<text x="470" y="1125.6" font-size="29.2" text-anchor="middle">I(<tspan font-size="17.812" dy="-14.3">12</tspan><tspan dy="14.3">CO) [K km s</tspan><tspan font-size="17.812" dy="-14.3">-1</tspan><tspan dy="14.3">]</tspan></text>
<text transform="translate(45.2 307.2) rotate(-90)" font-size="29.2" text-anchor="middle">I(<tspan font-size="17.812" dy="-14.3">13</tspan><tspan dy="14.3">CO) [K km s</tspan><tspan font-size="17.812" dy="-14.3">-1</tspan><tspan dy="14.3">]</tspan></text>
<text transform="translate(52.8 806.8) rotate(-90)" font-size="29.2" text-anchor="middle"><tspan font-size="17.812" dy="-14.3">13</tspan><tspan dy="14.3">CO detection fraction</tspan></text>
</svg>
</body></html>
